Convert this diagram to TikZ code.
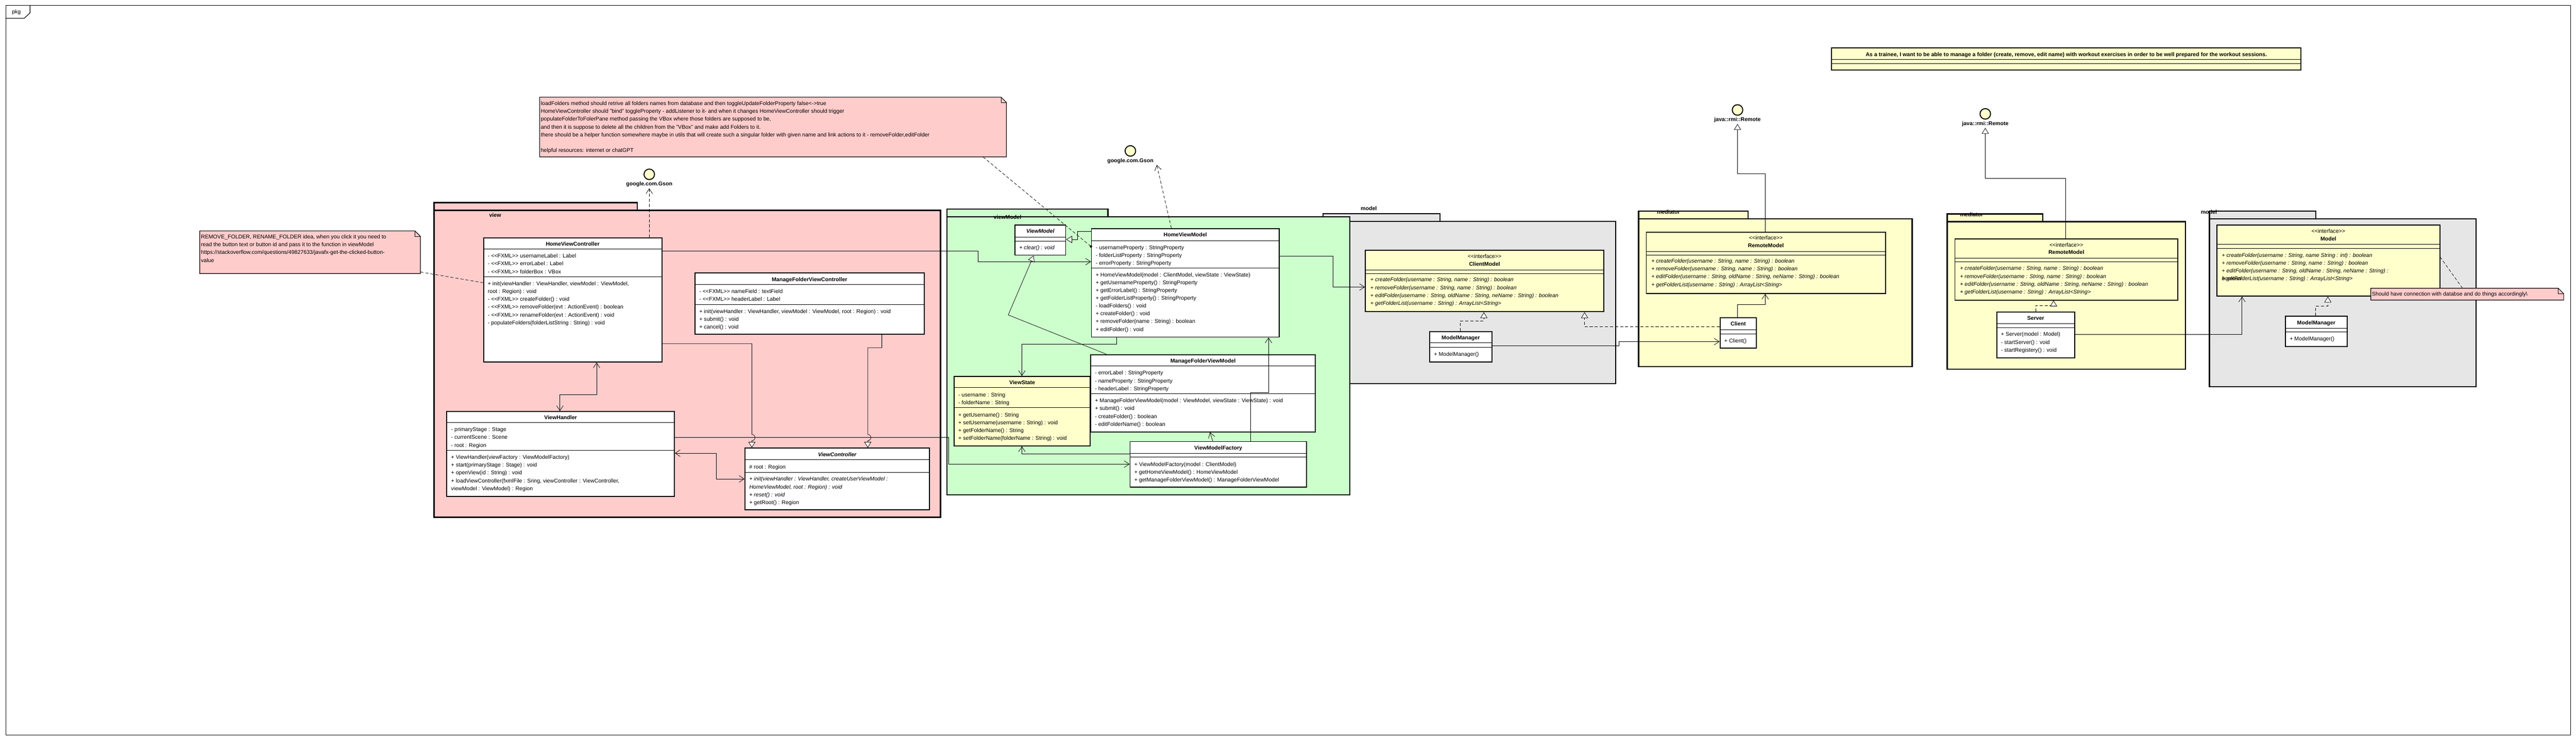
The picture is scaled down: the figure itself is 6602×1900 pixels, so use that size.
\documentclass[tikz,border=0pt]{standalone}
\usepackage{fontspec}
\setmainfont{Liberation Sans}
\usepackage{tikz}
\usetikzlibrary{arrows.meta, calc, positioning}
\definecolor{viewpink}{HTML}{FFCCCC}
\definecolor{vmgreen}{HTML}{CCFFCC}
\definecolor{modelgray}{HTML}{E6E6E6}
\definecolor{medyellow}{HTML}{FFFFCC}
\newcommand{\fx}{<{}<FXML>{}>}
\newcommand{\intf}{<{}<interface>{}>}
% class box: name, fill, corner, width, height, first line, second line
\newcommand{\umlclass}[7]{%
  \node[classbox, fill=#2, minimum width=#4pt, minimum height=#5pt] (#1) at #3 {};
  \draw[compline] ($(#1.north west)+(0,#6)$) -- ($(#1.north east)+(0,#6)$);
  \draw[compline] ($(#1.north west)+(0,#7)$) -- ($(#1.north east)+(0,#7)$);
}
% note with folded corner
\newcommand{\dogear}[1]{%
  \filldraw[notefill] (#1.north west) -- ($(#1.north east)+(-14,0)$) -- ($(#1.north east)+(0,14)$) |- (#1.south west) -- cycle;
  \draw[line width=1pt] ($(#1.north east)+(-14,0)$) |- ($(#1.north east)+(0,14)$);
}

\begin{document}
\begin{tikzpicture}[x=1pt, y=-1pt,
  classbox/.style={rectangle, draw, line width=2.5pt, anchor=north west, inner sep=0pt},
  compline/.style={line width=1.2pt},
  ctitle/.style={anchor=base, font=\fontsize{14}{20}\selectfont\bfseries},
  stereo/.style={anchor=base},
  members/.style={anchor=north west, align=left, inner sep=0pt},
  pkgbox/.style={rectangle, draw, line width=3pt, anchor=north west, inner sep=0pt},
  pkglabel/.style={font=\fontsize{14}{20}\selectfont\bfseries, inner sep=0pt},
  notebox/.style={rectangle, anchor=north west, inner sep=0pt},
  notefill/.style={fill=viewpink, draw, line width=1.5pt},
  lolli/.style={circle, draw, line width=2.5pt, fill=medyellow, minimum size=27pt, inner sep=0pt},
  assoc/.style={line width=1pt, -{Straight Barb[length=13pt, width=17pt]}},
  biassoc/.style={line width=1pt, {Straight Barb[length=13pt, width=17pt]}-{Straight Barb[length=13pt, width=17pt]}},
  gen/.style={line width=1pt, -{Triangle[length=15pt, width=18pt, fill=white]}},
  real/.style={gen, dash pattern=on 8pt off 5pt},
  dep/.style={assoc, dash pattern=on 8pt off 5pt},
  notelink/.style={line width=1pt, dash pattern=on 8pt off 5pt}]
  \tikzstyle{every node}=[font=\fontsize{14}{20}\selectfont]
  \useasboundingbox (0,0) rectangle (6602,1900);

  % frame
  \node[pkgbox, line width=1.5pt, minimum width=6573pt, minimum height=1871pt] (frame) at (14,13) {};
  \draw[line width=1.5pt] ($(frame.north west)+(0,34)$) -- ++(48,0) -- ++(15,-14) -- ++(0,-20);
  \node (frame_label) at ($(frame.north west)+(28,19)$) {pkg};

  % view package
  \node[pkgbox, fill=viewpink, minimum width=521pt, minimum height=20pt] (view_tab) at (1111,518) {};
  \node[pkgbox, fill=viewpink, minimum width=1298pt, minimum height=787pt] (view_pkg) at (1111,538) {};
  \node[pkglabel] (view_label) at ($(view_pkg.north west)+(158,14)$) {view};

  % model package (client side)
  \node[pkgbox, fill=modelgray, minimum width=300pt, minimum height=20pt] (model_tab) at (3389,546) {};
  \node[pkgbox, fill=modelgray, minimum width=750pt, minimum height=416pt] (model_pkg) at (3389,566) {};
  \node[pkglabel] (model_label) at ($(model_tab.north west)+(119,-11)$) {model};

  % viewModel package
  \node[pkgbox, fill=vmgreen, minimum width=413pt, minimum height=19pt] (vm_tab) at (2425,535) {};
  \node[pkgbox, fill=vmgreen, minimum width=1033pt, minimum height=713pt] (vm_pkg) at (2425,554) {};
  \node[pkglabel] (vm_label) at ($(vm_pkg.north west)+(157,3)$) {viewModel};

  % mediator package (client side)
  \node[pkgbox, fill=medyellow, minimum width=281pt, minimum height=20pt] (mediator_tab) at (4198,540) {};
  \node[pkgbox, fill=medyellow, minimum width=701pt, minimum height=379pt] (mediator_pkg) at (4198,560) {};
  \node[pkglabel] (mediator_label) at ($(mediator_tab.north west)+(78,3)$) {mediator};

  % mediator package (server side)
  \node[pkgbox, fill=medyellow, minimum width=245pt, minimum height=20pt] (mediator2_tab) at (4989,547) {};
  \node[pkgbox, fill=medyellow, minimum width=611pt, minimum height=378pt] (mediator2_pkg) at (4989,567) {};
  \node[pkglabel] (mediator2_label) at ($(mediator2_tab.north west)+(64,3)$) {mediator};

  % model package (server side)
  \node[pkgbox, fill=modelgray, minimum width=273pt, minimum height=20pt] (model2_tab) at (5661,540) {};
  \node[pkgbox, fill=modelgray, minimum width=683pt, minimum height=430pt] (model2_pkg) at (5661,560) {};
  \node[pkglabel] (model2_label) at ($(model2_tab.north west)+(0,3)$) {model};

  % user story
  \umlclass{user_story}{medyellow}{(4693,121)}{1203}{57}{31}{42}
  \node[ctitle] (user_story_name) at ($(user_story.north)+(0,23)$) {As a trainee, I want to be able to manage a folder (create, remove, edit name) with workout exercises in order to be well prepared for the workout sessions.};

  % interfaces from outside
  \node[lolli] (gson1_icon) at (1664,447) {};
  \node[ctitle, below=1pt of gson1_icon] (gson1) {google.com.Gson};
  \node[lolli] (gson2_icon) at (2897,387) {};
  \node[ctitle, below=1pt of gson2_icon] (gson2) {google.com.Gson};
  \node[lolli] (remote1_icon) at (4453,282) {};
  \node[ctitle, below=1pt of remote1_icon] (remote1) {java::rmi::Remote};
  \node[lolli] (remote2_icon) at (5088,292) {};
  \node[ctitle, below=1pt of remote2_icon] (remote2) {java::rmi::Remote};

  % HomeViewController
  \umlclass{home_vc}{white}{(1238,609)}{457}{318}{30}{101}
  \node[ctitle] (home_vc_name) at ($(home_vc.north)+(0,22)$) {HomeViewController};
  \node[members] (home_vc_attr) at ($(home_vc.north west)+(12,38)$) {\strut- \fx{} usernameLabel : Label\\- \fx{} errorLabel : Label\\- \fx{} folderBox : VBox};
  \node[members] (home_vc_ops) at ($(home_vc.north west)+(12,109)$) {\strut+ init(viewHandler : ViewHandler, viewModel : ViewModel,\\root : Region) : void\\- \fx{} createFolder() : void\\- \fx{} removeFolder(evt : ActionEvent) : boolean\\- \fx{} renameFolder(evt : ActionEvent) : void\\- populateFolders(folderListString : String) : void};

  % ManageFolderViewController
  \umlclass{manage_vc}{white}{(1780,699)}{587}{157}{30}{82}
  \node[ctitle] (manage_vc_name) at ($(manage_vc.north)+(0,22)$) {ManageFolderViewController};
  \node[members] (manage_vc_attr) at ($(manage_vc.north west)+(12,39)$) {\strut- \fx{} nameField : textField\\- \fx{} headerLabel : Label};
  \node[members] (manage_vc_ops) at ($(manage_vc.north west)+(12,90)$) {\strut+ init(viewHandler : ViewHandler, viewModel : ViewModel, root : Region) : void\\+ submit() : void\\+ cancel() : void};

  % ViewHandler
  \umlclass{view_handler}{white}{(1144,1054)}{583}{218}{29}{101}
  \node[ctitle] (view_handler_name) at ($(view_handler.north)+(0,22)$) {ViewHandler};
  \node[members] (view_handler_attr) at ($(view_handler.north west)+(12,38)$) {\strut- primaryStage : Stage\\- currentScene : Scene\\- root : Region};
  \node[members] (view_handler_ops) at ($(view_handler.north west)+(12,109)$) {\strut+ ViewHandler(viewFactory : ViewModelFactory)\\+ start(primaryStage : Stage) : void\\+ openView(id : String) : void\\+ loadViewController(fxmlFile : Sring, viewController : ViewController,\\viewModel : ViewModel) : Region};

  % ViewController
  \umlclass{view_controller}{white}{(1908,1148)}{473}{158}{31}{63}
  \node[ctitle] (view_controller_name) at ($(view_controller.north)+(0,22)$) {\itshape ViewController};
  \node[members] (view_controller_attr) at ($(view_controller.north west)+(12,40)$) {\strut\# root : Region};
  \node[members] (view_controller_ops) at ($(view_controller.north west)+(12,71)$) {\strut\itshape + init(viewHandler : ViewHandler, createUserViewModel :\\\itshape HomeViewModel, root : Region) : void\\\itshape + reset() : void\\\upshape + getRoot() : Region};

  % ViewModel
  \umlclass{view_model}{white}{(2600,576)}{130}{77}{32}{42}
  \node[ctitle] (view_model_name) at ($(view_model.north)+(0,22)$) {\itshape ViewModel};
  \node[members] (view_model_ops) at ($(view_model.north west)+(12,50)$) {\strut\itshape + clear() : void};

  % HomeViewModel
  \umlclass{home_vm}{white}{(2796,585)}{481}{278}{32}{102}
  \node[ctitle] (home_vm_name) at ($(home_vm.north)+(0,22)$) {HomeViewModel};
  \node[members] (home_vm_attr) at ($(home_vm.north west)+(12,40)$) {\strut- usernameProperty : StringProperty\\- folderListProperty : StringProperty\\- errorProperty : StringProperty};
  \node[members] (home_vm_ops) at ($(home_vm.north west)+(12,110)$) {\strut+ HomeViewModel(model : ClientModel, viewState : ViewState)\\+ getUsernameProperty() : StringProperty\\+ getErrorLabel() : StringProperty\\+ getFolderListProperty() : StringProperty\\- loadFolders() : void\\+ createFolder() : void\\+ removeFolder(name : String) : boolean\\+ editFolder() : void};

  % ViewState
  \umlclass{view_state}{medyellow}{(2444,964)}{349}{178}{30}{81}
  \node[ctitle] (view_state_name) at ($(view_state.north)+(0,22)$) {ViewState};
  \node[members] (view_state_attr) at ($(view_state.north west)+(12,39)$) {\strut- username : String\\- folderName : String};
  \node[members] (view_state_ops) at ($(view_state.north west)+(12,90)$) {\strut+ getUsername() : String\\+ setUsername(username : String) : void\\+ getFolderName() : String\\+ setFolderName(folderName : String) : void};

  % ManageFolderViewModel
  \umlclass{manage_vm}{white}{(2794,908)}{576}{198}{30}{101}
  \node[ctitle] (manage_vm_name) at ($(manage_vm.north)+(0,22)$) {ManageFolderViewModel};
  \node[members] (manage_vm_attr) at ($(manage_vm.north west)+(12,39)$) {\strut- errorLabel : StringProperty\\- nameProperty : StringProperty\\- headerLabel : StringProperty};
  \node[members] (manage_vm_ops) at ($(manage_vm.north west)+(12,110)$) {\strut+ ManageFolderViewModel(model : ViewModel, viewState : ViewState) : void\\+ submit() : void\\- createFolder() : boolean\\- editFolderName() : boolean};

  % ViewModelFactory
  \umlclass{vm_factory}{white}{(2895,1131)}{452}{117}{31}{41}
  \node[ctitle] (vm_factory_name) at ($(vm_factory.north)+(0,22)$) {ViewModelFactory};
  \node[members] (vm_factory_ops) at ($(vm_factory.north west)+(12,50)$) {\strut+ ViewModelFactory(model : ClientModel)\\+ getHomeViewModel() : HomeViewModel\\+ getManageFolderViewModel() : ManageFolderViewModel};

  % ClientModel
  \umlclass{client_model}{medyellow}{(3498,640)}{611}{158}{52}{62}
  \node[stereo] (client_model_st) at ($(client_model.north)+(0,22)$) {\intf};
  \node[ctitle] (client_model_name) at ($(client_model.north)+(0,42)$) {ClientModel};
  \node[members] (client_model_ops) at ($(client_model.north west)+(14,68)$) {\strut\itshape + createFolder(username : String, name : String) : boolean\\\itshape + removeFolder(username : String, name : String) : boolean\\\itshape + editFolder(username : String, oldName : String, neName : String) : boolean\\\itshape + getFolderList(username : String) : ArrayList<String>};

  % ModelManager (client side)
  \umlclass{model_manager}{white}{(3663,849)}{159}{78}{30}{41}
  \node[ctitle] (model_manager_name) at ($(model_manager.north)+(0,22)$) {ModelManager};
  \node[members] (model_manager_ops) at ($(model_manager.north west)+(12,50)$) {\strut+ ModelManager()};

  % RemoteModel (client side)
  \umlclass{remote_model}{medyellow}{(4218,594)}{613}{157}{51}{60}
  \node[stereo] (remote_model_st) at ($(remote_model.north)+(0,21)$) {\intf};
  \node[ctitle] (remote_model_name) at ($(remote_model.north)+(0,40)$) {RemoteModel};
  \node[members] (remote_model_ops) at ($(remote_model.north west)+(14,66)$) {\strut\itshape + createFolder(username : String, name : String) : boolean\\\itshape + removeFolder(username : String, name : String) : boolean\\\itshape + editFolder(username : String, oldName : String, neName : String) : boolean\\\itshape + getFolderList(username : String) : ArrayList<String>};

  % Client
  \umlclass{client}{white}{(4407,813)}{93}{78}{32}{43}
  \node[ctitle] (client_name) at ($(client.north)+(0,22)$) {Client};
  \node[members] (client_ops) at ($(client.north west)+(12,51)$) {\strut+ Client()};

  % RemoteModel (server side)
  \umlclass{remote_model2}{medyellow}{(5009,611)}{571}{157}{51}{61}
  \node[stereo] (remote_model2_st) at ($(remote_model2.north)+(0,22)$) {\intf};
  \node[ctitle] (remote_model2_name) at ($(remote_model2.north)+(0,41)$) {RemoteModel};
  \node[members] (remote_model2_ops) at ($(remote_model2.north west)+(14,68)$) {\strut\itshape + createFolder(username : String, name : String) : boolean\\\itshape + removeFolder(username : String, name : String) : boolean\\\itshape + editFolder(username : String, oldName : String, neName : String) : boolean\\\itshape + getFolderList(username : String) : ArrayList<String>};

  % Server
  \umlclass{server}{white}{(5116,799)}{200}{117}{31}{41}
  \node[ctitle] (server_name) at ($(server.north)+(0,22)$) {Server};
  \node[members] (server_ops) at ($(server.north west)+(12,49)$) {\strut+ Server(model : Model)\\- startServer() : void\\- startRegistery() : void};

  % Model
  \umlclass{model}{medyellow}{(5680,576)}{572}{182}{51}{61}
  \node[stereo] (model_st) at ($(model.north)+(0,22)$) {\intf};
  \node[ctitle] (model_name) at ($(model.north)+(0,41)$) {Model};
  \node[members] (model_ops) at ($(model.north west)+(14,69)$) {\strut\itshape + createFolder(username : String, name String : int) : boolean\\\itshape + removeFolder(username : String, name : String) : boolean\\\itshape + editFolder(username : String, oldName : String, neName : String) :\\\itshape \rlap{boolean}+ getFolderList(username : String) : ArrayList<String>};

  % ModelManager (server side)
  \umlclass{model_manager2}{white}{(5856,810)}{158}{77}{32}{41}
  \node[ctitle] (model_manager2_name) at ($(model_manager2.north)+(0,22)$) {ModelManager};
  \node[members] (model_manager2_ops) at ($(model_manager2.north west)+(12,49)$) {\strut+ ModelManager()};

  % notes
  \node[notebox, minimum width=565pt, minimum height=109pt] (note1) at (512,592) {};
  \dogear{note1}
  \node[members] (note1_text) at ($(note1.north west)+(3,6)$) {\strut REMOVE\_FOLDER, RENAME\_FOLDER idea, when you click it you need to\\read the button text or button id and pass it to the function in viewModel\\https://stackoverflow.com/questions/49827633/javafx-get-the-clicked-button-\\value};

  \node[notebox, minimum width=1196pt, minimum height=153pt] (note2) at (1383,249) {};
  \dogear{note2}
  \node[members] (note2_text) at ($(note2.north west)+(3,7)$) {\strut loadFolders method should retrive all folders names from database and then toggleUpdateFolderProperty false<->true\\HomeViewController should "bind" toggleProperty - addListener to it- and when it changes HomeViewController should trigger\\populateFolderToFolerPane method passing the VBox where those folders are supposed to be,\\and then it is suppose to delete all the children from the "VBox" and make add Folders to it.\\there should be a helper function somewhere maybe in utils that will create such a singular folder with given name and link actions to it - removeFolder,editFolder\\\mbox{}\\helpful resources: internet or chatGPT};

  \node[notebox, minimum width=494pt, minimum height=30pt] (note3) at (6076,739) {};
  \dogear{note3}
  \node[members] (note3_text) at ($(note3.north west)+(3,6)$) {\strut Should have connection with databse and do things accordingly\textbackslash};

  % arrows
  \draw[notelink] ($(note1.south east)+(0,-4)$) -- ($(home_vc.north west)+(0,116)$);
  \draw[dep] (gson1.south |- home_vc.north) -- (gson1.south);
  \draw[assoc] ($(home_vc.north east)+(0,35)$) -- ++(809,0) |- ($(home_vm.north west)+(0,86)$);
  \draw[biassoc] ($(home_vc.south west)+(291,0)$) -- ++(0,83) -| ($(view_handler.north west)+(291,0)$);
  \draw[gen] ($(home_vc.north east)+(0,272)$) -| ($(view_controller.north west)+(19,-34)$) arc[start angle=-90, end angle=90, radius=8] -- ($(view_controller.north west)+(19,0)$);
  \draw[gen] ($(manage_vc.south west)+(480,0)$) -- ++(0,33) -| ($(view_controller.north west)+(316,-34)$) arc[start angle=-90, end angle=90, radius=8] -- ($(view_controller.north west)+(316,0)$);
  \draw[assoc] ($(view_handler.north east)+(0,68)$) -- ++(702,0) |- ($(vm_factory.north west)+(0,59)$);
  \draw[biassoc] ($(view_handler.north east)+(0,108)$) -- ++(106,0) |- ($(view_controller.north west)+(0,80)$);
  \draw[notelink] ($(note2.south east)+(-60,0)$) -- ($(home_vm.north west)+(0,47)$);
  \fill ($(home_vm.north west)+(0,47)$) circle[radius=3];
  \draw[gen] ($(home_vm.north west)+(0,8)$) -- ++(-35,0) |- ($(view_model.north east)+(0,38)$);
  \draw[dep] ($(home_vm.north west)+(206,0)$) -- ($(gson2.south east)+(5,0)$);
  \draw[gen] ($(manage_vm.north west)+(41,0)$) -- ($(view_model.south west)+(-16,152)$) -- ($(view_model.south west)+(49,0)$);
  \draw[assoc] ($(home_vm.south west)+(66,0)$) -- ++(0,17) -| ($(view_state.north west)+(175,0)$);
  \draw[assoc] ($(home_vm.north east)+(0,72)$) -- ++(137,0) |- ($(client_model.north west)+(0,96)$);
  \draw[assoc] ($(vm_factory.north west)+(310,0)$) -- ++(0,-124) -| ($(home_vm.south west)+(455,0)$);
  \draw[assoc] ($(vm_factory.north west)+(213,0)$) -- ($(manage_vm.south west)+(307,0)$);
  \draw[assoc] ($(vm_factory.north west)+(0,33)$) -| ($(view_state.south west)+(175,0)$);
  \draw[real] ($(model_manager.north west)+(79,0)$) -- ++(0,-26) -| ($(client_model.south west)+(305,0)$);
  \draw[real] ($(client.north west)+(0,25)$) -| ($(client_model.south west)+(563,0)$);
  \draw[assoc] ($(model_manager.north east)+(0,38)$) -- ++(325,0) |- ($(client.north west)+(0,63)$);
  \draw[assoc] ($(client.north west)+(46,0)$) -- ++(0,-32) -| ($(remote_model.south west)+(306,0)$);
  \draw[gen] ($(remote_model.north west)+(306,0)$) -- ++(0,-149) -| (remote1.south);
  \draw[real] ($(server.north west)+(101,0)$) -- ++(0,-16) -| ($(remote_model2.south west)+(254,0)$);
  \draw[gen] ($(remote_model2.north west)+(285,0)$) -- ++(0,-154) -| (remote2.south);
  \draw[assoc] ($(server.north east)+(0,58)$) -| ($(model.south west)+(66,0)$);
  \draw[real] ($(model_manager2.north west)+(78,0)$) -- ++(0,-25) -| ($(model.south west)+(286,0)$);
  \draw[notelink] ($(note3.north west)+(235,0)$) -- ($(model.north east)+(0,84)$);

\end{tikzpicture}
\end{document}
